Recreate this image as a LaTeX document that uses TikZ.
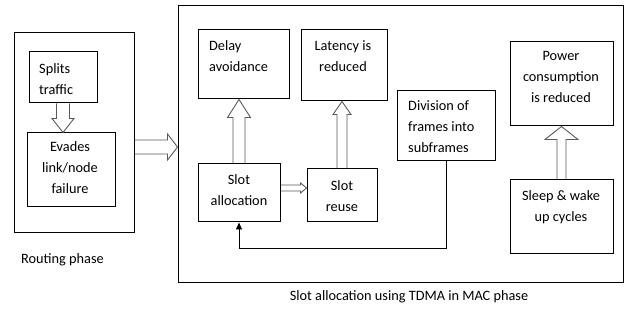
\documentclass[tikz,border=0pt]{standalone}
\usepackage{fontspec}
\setmainfont{Carlito}
\usetikzlibrary{calc,arrows.meta}
\tikzset{
  box/.style={draw, line width=1pt, inner sep=0pt},
  txt/.style={inner sep=0pt, font=\fontsize{14.3}{21}\selectfont, execute at begin node=\strut},
  captxt/.style={inner sep=0pt, font=\fontsize{14.3}{21}\selectfont, anchor=base},
  hol/.style={draw=black!65, line width=0.9pt, line join=miter},
  link/.style={draw, line width=0.9pt, -{Triangle[length=7pt,width=6pt]}}
}
% hollow block arrows: #1 start, #2 end, #3 half shaft, #4 half head, #5 head length
\newcommand\blkup[5]{\draw[hol] let \p1=(#1), \p2=(#2) in
  (\x1-#3,\y1) -- (\x1-#3,\y2-#5) -- (\x1-#4,\y2-#5) -- (\x1,\y2) -- (\x1+#4,\y2-#5) -- (\x1+#3,\y2-#5) -- (\x1+#3,\y1);}
\newcommand\blkdown[5]{\draw[hol] let \p1=(#1), \p2=(#2) in
  (\x1-#3,\y1) -- (\x1-#3,\y2+#5) -- (\x1-#4,\y2+#5) -- (\x1,\y2) -- (\x1+#4,\y2+#5) -- (\x1+#3,\y2+#5) -- (\x1+#3,\y1);}
\newcommand\blkright[5]{\draw[hol] let \p1=(#1), \p2=(#2) in
  (\x1,\y1+#3) -- (\x2-#5,\y1+#3) -- (\x2-#5,\y1+#4) -- (\x2,\y1) -- (\x2-#5,\y1-#4) -- (\x2-#5,\y1-#3) -- (\x1,\y1-#3);}
\begin{document}
\begin{tikzpicture}[x=1pt,y=-1pt]
\useasboundingbox (0,0) rectangle (626,320);
% boxes
\node[box, minimum width=120, minimum height=200] (outerL) at (74,133) {};
\node[box, minimum width=68, minimum height=51] (splits) at (63,77.5) {};
\node[box, minimum width=88, minimum height=74] (evades) at (71,170) {};
\node[box, minimum width=445, minimum height=276] (outerR) at (400.5,144) {};
\node[box, minimum width=91, minimum height=69] (delay) at (243.5,64.5) {};
\node[box, minimum width=86, minimum height=71] (latency) at (344,65.5) {};
\node[box, minimum width=98, minimum height=70] (division) at (446,126) {};
\node[box, minimum width=103, minimum height=84] (power) at (561.5,84) {};
\node[box, minimum width=103, minimum height=74] (sleep) at (561.5,217) {};
\node[box, minimum width=82, minimum height=58] (slotalloc) at (239,193) {};
\node[box, minimum width=70, minimum height=53] (slotreuse) at (342,195.5) {};
% texts
\node[txt, anchor=north west, align=left] (splits-t) at (39,63.5) {Splits\\traffic};
\node[txt, anchor=north, align=center] (evades-t) at (70,141.3) {Evades\\link/node\\failure};
\node[txt, anchor=north west, align=left] (delay-t) at (209,40.3) {Delay\\avoidance};
\node[txt, anchor=north, align=center] (latency-t) at (343,40.3) {Latency is\\reduced};
\node[txt, anchor=north west, align=left] (division-t) at (408,100.3) {Division of\\frames into\\subframes};
\node[txt, anchor=north, align=center] (power-t) at (561,51.3) {Power\\consumption\\is reduced};
\node[txt, anchor=north, align=center] (sleep-t) at (561,190.3) {Sleep \& wake\\up cycles};
\node[txt, anchor=north, align=center] (slotalloc-t) at (239,174.3) {Slot\\allocation};
\node[txt, anchor=north, align=center] (slotreuse-t) at (342,180.3) {Slot\\reuse};
\node[captxt] (routing-t) at (62.5,264) {Routing phase};
\node[captxt] (mac-t) at (409,300) {Slot allocation using TDMA in MAC phase};
% hollow arrows
\blkdown{splits.south}{evades.north}{6.5pt}{11pt}{14pt}
\blkright{$(outerL.east)+(0,14)$}{outerR.west}{7pt}{13pt}{10pt}
\blkup{slotalloc.north}{delay.south}{6pt}{11.5pt}{18pt}
\blkup{slotreuse.north}{latency.south}{5pt}{9pt}{13pt}
\blkright{$(slotalloc.east)+(0,-5)$}{slotreuse.west}{3pt}{5pt}{6pt}
\blkup{sleep.north}{power.south}{4.5pt}{16.5pt}{13pt}
% connector
\draw[link] (division.south) -- ++(0,87) -| (slotalloc.south);
\end{tikzpicture}
\end{document}
